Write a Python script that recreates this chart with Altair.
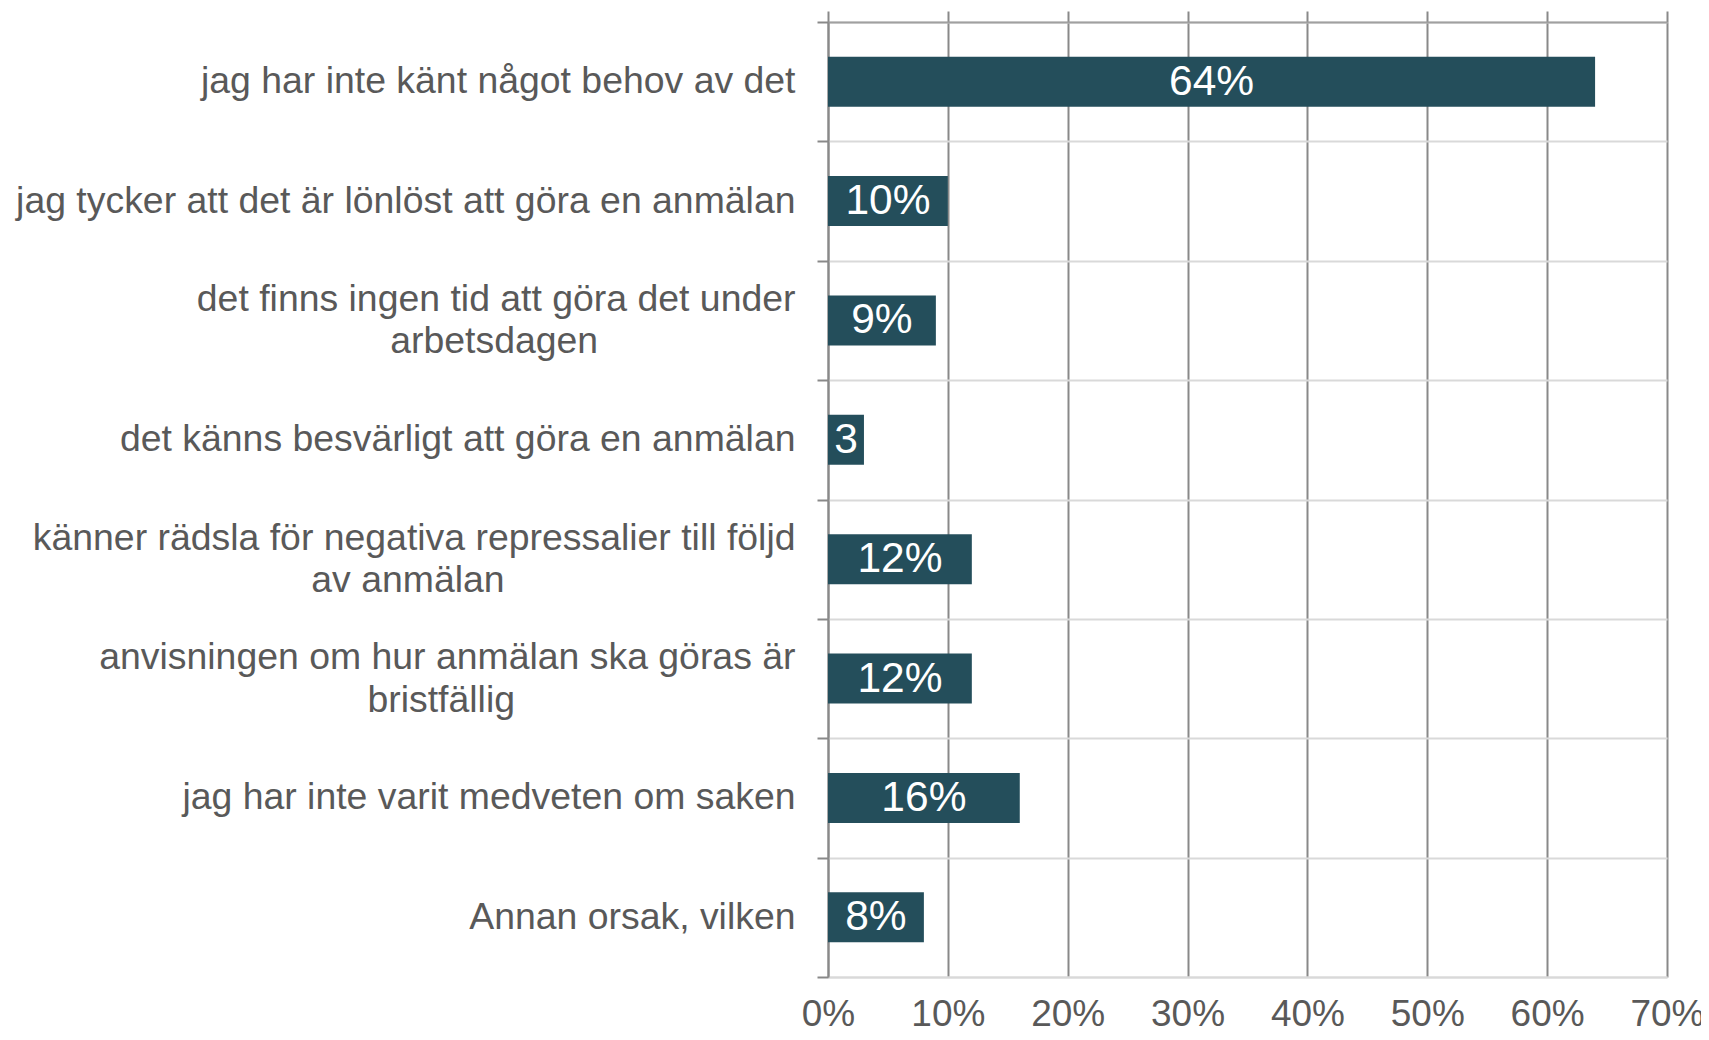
import altair as alt
import pandas as pd

NB = "\u00a0"
END = "\u200b"
categories = [
    "jag har inte känt något behov av det",
    "jag tycker att det är lönlöst att göra en anmälan",
    "det finns ingen tid att göra det under\narbetsdagen" + NB * 19 + END,
    "det känns besvärligt att göra en anmälan",
    "känner rädsla för negativa repressalier till följd\nav anmälan" + NB * 28 + END,
    "anvisningen om hur anmälan ska göras är\nbristfällig" + NB * 27 + END,
    "jag har inte varit medveten om saken",
    "Annan orsak, vilken",
]
values = [64, 10, 9, 3, 12, 12, 16, 8]
bar_labels = ["64%", "10%", "9%", "3", "12%", "12%", "16%", "8%"]
x_ticks = [0, 10, 20, 30, 40, 50, 60, 70]

df = pd.DataFrame({"cat": categories, "value": values, "label": bar_labels})

FONT = "Liberation Sans"
TEXT = "#595959"
LINE = "#898989"
TOPLINE = "#a0a0a0"
LIGHT = "#d9d9d9"
BAR = "#244e5b"

y_axis = alt.Axis(
    orient="left",
    tickBand="extent",
    ticks=True,
    tickSize=11,
    tickColor=LINE,
    tickWidth=2,
    domain=True,
    domainColor=LINE,
    domainWidth=2,
    grid=True,
    gridColor=LIGHT,
    gridWidth=2,
    labelFont=FONT,
    labelFontSize=37.4,
    labelColor=TEXT,
    labelPadding=22,
    labelLimit=1000,
    labelLineHeight=42.5,
    labelOffset={
        "condition": {"test": "indexof(datum.label, '\\n') >= 0", "value": -21},
        "value": 0,
    },
    labelExpr="split(datum.label, '\\n')",
)

y_scale = alt.Scale(paddingInner=0, paddingOuter=0)
x_scale = alt.Scale(domain=[0, 70], nice=False, zero=True)

bars = alt.Chart(df).mark_bar(color=BAR, size=50).encode(
    x=alt.X(
        "value:Q",
        scale=x_scale,
        title=None,
        axis=alt.Axis(
            orient="top",
            values=x_ticks,
            labels=False,
            ticks=True,
            tickSize=11,
            tickColor=LINE,
            tickWidth=2,
            domain=True,
            domainColor=TOPLINE,
            domainWidth=2,
            grid=True,
            gridColor=LINE,
            gridWidth=2,
        ),
    ),
    y=alt.Y("cat:N", sort=None, title=None, scale=y_scale, axis=y_axis),
)

texts = alt.Chart(df).transform_calculate(mid="datum.value / 2").mark_text(
    color="white", font=FONT, fontSize=42.5, align="center", baseline="middle"
).encode(
    x=alt.X(
        "mid:Q",
        scale=x_scale,
        title=None,
        axis=alt.Axis(
            orient="bottom",
            values=x_ticks,
            labels=True,
            labelFlush=False,
            labelExpr="datum.value + '%'",
            labelFont=FONT,
            labelFontSize=37,
            labelColor=TEXT,
            labelPadding=19,
            ticks=False,
            domain=True,
            domainColor=LIGHT,
            domainWidth=2,
            grid=False,
        ),
    ),
    y=alt.Y("cat:N", sort=None, title=None, scale=y_scale, axis=y_axis),
    text="label:N",
)

chart = (
    alt.layer(bars, texts)
    .resolve_axis(x="independent")
    .properties(
        width=839,
        height=955,
        autosize=alt.AutoSizeParams(type="none"),
        padding={"left": 820, "top": 14, "right": 34, "bottom": 55},
    )
    .configure_view(stroke=None)
    .configure(background="white")
)

chart.save("out.html", embed_options={"renderer": "svg", "actions": False})
